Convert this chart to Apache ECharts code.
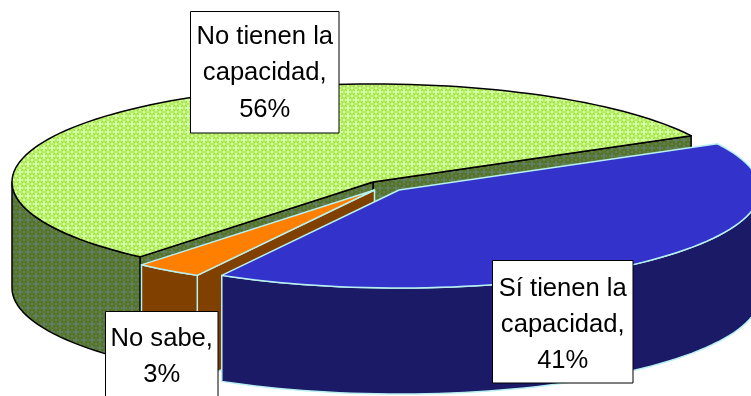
<!DOCTYPE html>
<html>
<head>
<meta charset="utf-8">
<style>html,body{margin:0;padding:0;background:#fff}#c{width:751px;height:396px}</style>
<script src="https://cdn.jsdelivr.net/npm/echarts@6/dist/echarts.min.js"></script>
</head>
<body>
<div id="c"></div>
<script>
// ---- data ----
var categories = ['No tienen la capacidad', 'No sabe', 'Sí tienen la capacidad'];
var values = [56, 3, 41];
var labelLines = [
  ['No tienen la', 'capacidad,', '56%'],
  ['No sabe,', '3%'],
  ['Sí tienen la', 'capacidad,', '41%']
];
// ---- layout ----
var RX = 361, RY = 98, DEPTH = 106, START = 28.2;
var centers = [[373, 182], [374.5, 190], [399, 190]];
var boxes = [[190.5, 11.5, 148.5, 121.5], [105.5, 311.5, 112.5, 100], [492.5, 260.5, 140.5, 122.5]];
var lineY = [[37, 73, 110], [339, 375], [289, 325, 361]];

function tile(base, cross, dark) {
  var c = document.createElement('canvas'); c.width = 8; c.height = 8;
  var g = c.getContext('2d');
  g.fillStyle = base; g.fillRect(0, 0, 8, 8);
  g.fillStyle = dark;
  for (var i = 0; i < 8; i++) { g.fillRect(i, i, 1, 1); g.fillRect(7 - i, i, 1, 1); }
  g.fillStyle = cross;
  g.fillRect(3, 1, 2, 6); g.fillRect(1, 3, 6, 2);
  g.fillRect(0, 0, 1, 1); g.fillRect(7, 7, 1, 1); g.fillRect(0, 7, 1, 1); g.fillRect(7, 0, 1, 1);
  return { image: c, repeat: 'repeat' };
}
var styles = [
  { top: tile('#b8ee66', '#d0ffa0', '#a0d844'), side: tile('#58772c', '#5f7f60', '#4f7020'), cut: tile('#58772c', '#5f7f60', '#4f7020'), line: '#000000', w: 1.5 },
  { top: '#ff8000', side: '#804000', cut: '#804000', line: '#b8f0f0', w: 1.5 },
  { top: '#3333cc', side: '#1a1a66', cut: '#1a1a66', line: '#b8f0f0', w: 1.5 }
];

var total = values.reduce(function (a, b) { return a + b; }, 0);
function pt(c, deg, dy) {
  var t = deg * Math.PI / 180;
  return [c[0] + RX * Math.cos(t), c[1] - RY * Math.sin(t) + (dy || 0)];
}
function arc(c, a, b, dy) {
  var out = [], n = Math.max(2, Math.ceil(Math.abs(b - a) / 2));
  for (var i = 0; i <= n; i++) out.push(pt(c, a + (b - a) * i / n, dy));
  return out;
}
function poly(points, fill, s) {
  return { type: 'polygon', silent: true, shape: { points: points },
    style: { fill: fill, stroke: s.line, lineWidth: s.w, lineJoin: 'round' } };
}
function renderSlice(params, api) {
  var i = params.dataIndex, before = 0;
  for (var k = 0; k < i; k++) before += values[k];
  var a0 = START + before / total * 360;
  var a1 = a0 + api.value(0) / total * 360;
  var c = centers[i], s = styles[i], kids = [];
  var cBottom = [c[0], c[1] + DEPTH];

  // cut faces (only those facing the viewer are drawn)
  function cut(deg) {
    var p = pt(c, deg), q = pt(c, deg, DEPTH);
    kids.push(poly([c, p, q, cBottom], s.cut, s));
  }
  if (i === 0) { cut(a0); cut(a1); }
  if (i === 1) { cut(a1); }
  // outer wall: the front half of the rim, 180..360 degrees
  var lo = Math.max(a0, 180), hi = Math.min(a1, 360);
  if (hi > lo) {
    kids.push(poly(arc(c, lo, hi).concat(arc(c, hi, lo, DEPTH)), s.side, s));
  }
  // top face
  kids.push(poly([c].concat(arc(c, a0, a1)), s.top, s));
  return { type: 'group', children: kids };
}
function renderLabel(params) {
  var i = params.dataIndex, b = boxes[i], kids = [
    { type: 'rect', silent: true, shape: { x: b[0], y: b[1], width: b[2], height: b[3] },
      style: { fill: '#ffffff', stroke: '#000000', lineWidth: 1 } }
  ];
  labelLines[i].forEach(function (t, j) {
    kids.push({ type: 'text', silent: true, style: {
      text: t, x: b[0] + b[2] / 2, y: lineY[i][j], align: 'center', verticalAlign: 'middle',
      fontFamily: '"Liberation Sans", Arial, sans-serif', fontSize: 25.6, fill: '#000000' } });
  });
  return { type: 'group', children: kids };
}
var seriesData = categories.map(function (name, i) { return { name: name, value: [values[i]] }; });
var chart = echarts.init(document.getElementById('c'), null, { renderer: 'canvas' });
chart.setOption({
  animation: false,
  backgroundColor: '#ffffff',
  series: [
    { type: 'custom', coordinateSystem: 'none', renderItem: renderSlice, data: seriesData, z: 1, silent: true },
    { type: 'custom', coordinateSystem: 'none', renderItem: renderLabel, data: seriesData, z: 2, silent: true }
  ]
});
</script>
</body>
</html>
